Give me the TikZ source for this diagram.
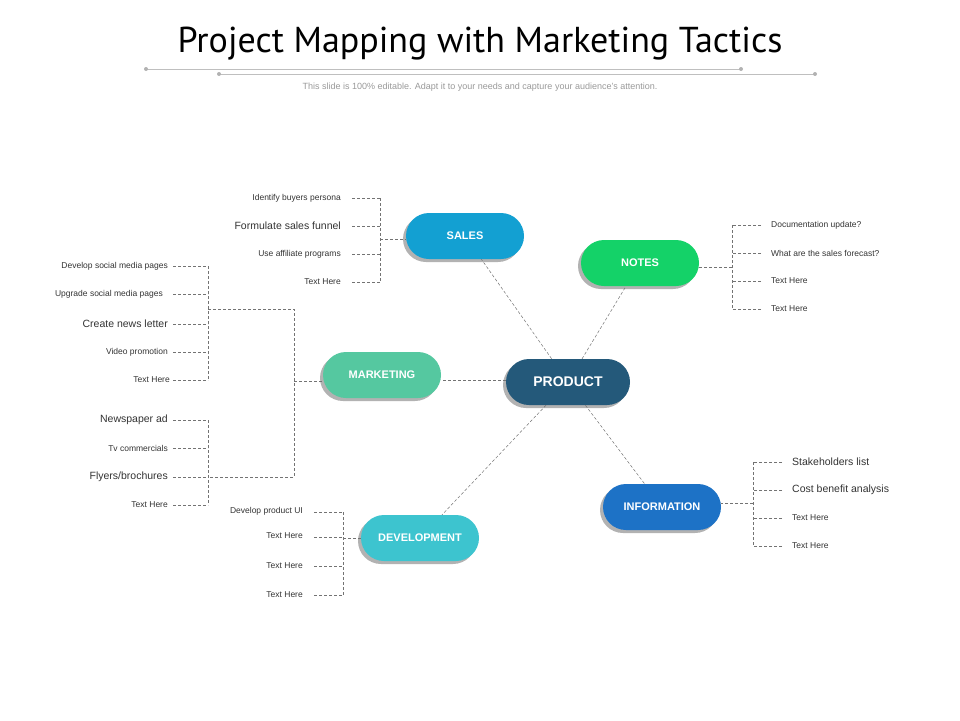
\documentclass[tikz,border=0pt]{standalone}
\usepackage{fontspec}
\setmainfont{Liberation Sans}
\newfontfamily\titlefont{PT Sans}
\begin{document}
\begin{tikzpicture}[x=1pt,y=-1pt,
  pill/.style={rounded corners=23pt,minimum width=118pt,minimum height=46pt,text=white,font=\bfseries\fontsize{11}{12}\selectfont,inner sep=0pt},
  shadowed/.style={preaction={fill=black!30,transform canvas={xshift=-3pt,yshift=-3pt}}},
  dl/.style={densely dashed,draw=black!55,line width=0.5pt},
  lab/.style={font=\fontsize{8.5}{9}\selectfont,text=black!80,inner sep=0pt},
  labb/.style={font=\fontsize{10.5}{11}\selectfont,text=black!80,inner sep=0pt}]
\useasboundingbox (0,0) rectangle (960,720);
\definecolor{csales}{HTML}{13A0D2}
\definecolor{cnotes}{HTML}{14D268}
\definecolor{cmark}{HTML}{55C8A0}
\definecolor{cprod}{HTML}{24597A}
\definecolor{cinfo}{HTML}{1D72C6}
\definecolor{cdev}{HTML}{3DC4CF}
\node[font=\titlefont\fontsize{36}{38}\selectfont] (title) at (480,44) {Project Mapping with Marketing Tactics};
\coordinate (l1a) at (146,69); \coordinate (l1b) at (741,69);
\coordinate (l2a) at (219,74); \coordinate (l2b) at (815,74);
\draw[black!25,line width=0.8pt] (l1a) -- (l1b);
\draw[black!25,line width=0.8pt] (l2a) -- (l2b);
\foreach \p in {l1a,l1b,l2a,l2b} \fill[black!30] (\p) circle (2pt);
\node[text=black!40,font=\fontsize{9}{10}\selectfont] (sub) at (480,87) {This slide is 100\% editable. Adapt it to your needs and capture your audience's attention.};
% nodes
\node[pill,fill=csales,shadowed] (sales) at (465,236) {SALES};
\node[pill,fill=cnotes,shadowed] (notes) at (640,263) {NOTES};
\node[pill,fill=cmark,shadowed] (mark) at (382,375) {MARKETING};
\node[pill,fill=cprod,shadowed,minimum width=124pt,font=\bfseries\fontsize{14}{15}\selectfont] (prod) at (568,382) {PRODUCT};
\node[pill,fill=cinfo,shadowed] (info) at (662,507) {INFORMATION};
\node[pill,fill=cdev,shadowed] (dev) at (420,538) {DEVELOPMENT};
% center links
\draw[dl] (prod) -- (sales);
\draw[dl] (prod) -- (notes);
\draw[dl] (prod.west |- 0,380) -- (mark.east |- 0,380);
\draw[dl] (prod) -- (info);
\draw[dl] (prod) -- (dev);
% sales
\node[lab,anchor=east] (s1) at (341,198) {Identify buyers persona};
\node[labb,anchor=east] (s2) at (341,226) {Formulate sales funnel};
\node[lab,anchor=east] (s3) at (341,254) {Use affiliate programs};
\node[lab,anchor=east] (s4) at (341,282) {Text Here};
\foreach \n/\y in {s1/198,s2/226,s3/254,s4/282} \draw[dl] ([xshift=11pt]\n.east) -- (380,\y);
\draw[dl] (380,198) -- (380,282);
\draw[dl] (380,239) -- (sales.west |- 0,239);
% notes
\node[lab,anchor=west] (n1) at (771,225) {Documentation update?};
\node[lab,anchor=west] (n2) at (771,253) {What are the sales forecast?};
\node[lab,anchor=west] (n3) at (771,281) {Text Here};
\node[lab,anchor=west] (n4) at (771,309) {Text Here};
\foreach \n/\y in {n1/225,n2/253,n3/281,n4/309} \draw[dl] ([xshift=-10pt]\n.west) -- (732,\y);
\draw[dl] (732,225) -- (732,309);
\draw[dl] (732,267) -- (notes.east |- 0,267);
% information
\node[labb,anchor=west] (i1) at (792,462) {Stakeholders list};
\node[labb,anchor=west] (i2) at (792,490) {Cost benefit analysis};
\node[lab,anchor=west] (i3) at (792,518) {Text Here};
\node[lab,anchor=west] (i4) at (792,546) {Text Here};
\foreach \n/\y in {i1/462,i2/490,i3/518,i4/546} \draw[dl] ([xshift=-10pt]\n.west) -- (753,\y);
\draw[dl] (753,462) -- (753,546);
\draw[dl] (753,503) -- (info.east |- 0,503);
% development
\node[lab,anchor=east] (d1) at (303,511) {Develop product UI};
\node[lab,anchor=east] (d2) at (303,536) {Text Here};
\node[lab,anchor=east] (d3) at (303,566) {Text Here};
\node[lab,anchor=east] (d4) at (303,595) {Text Here};
\foreach \n/\y in {d1/512,d2/537,d3/566,d4/595} \draw[dl] ([xshift=11pt]\n.east |- 0,\y) -- (343,\y);
\draw[dl] (343,512) -- (343,595);
\draw[dl] (343,538) -- (dev.west |- 0,538);
% marketing
\node[lab,anchor=east] (m1) at (168,266) {Develop social media  pages};
\node[lab,anchor=east] (m2) at (163,294) {Upgrade social media  pages};
\node[labb,anchor=east] (m3) at (168,324) {Create news letter};
\node[lab,anchor=east] (m4) at (168,352) {Video promotion};
\node[lab,anchor=east] (m5) at (170,380) {Text Here};
\node[labb,anchor=east] (m6) at (168,420) {Newspaper ad};
\node[lab,anchor=east] (m7) at (168,448) {Tv commercials};
\node[labb,anchor=east] (m8) at (168,477) {Flyers/brochures};
\node[lab,anchor=east] (m9) at (168,505) {Text Here};
\foreach \y in {266,294,324,352,380,420,448,477,505} \draw[dl] (173,\y) -- (208,\y);
\draw[dl] (208,266) -- (208,380);
\draw[dl] (208,420) -- (208,505);
\draw[dl] (208,309) -- (294,309) -- (294,477) -- (208,477);
\draw[dl] (294,381) -- (mark.west |- 0,381);
\end{tikzpicture}
\end{document}
